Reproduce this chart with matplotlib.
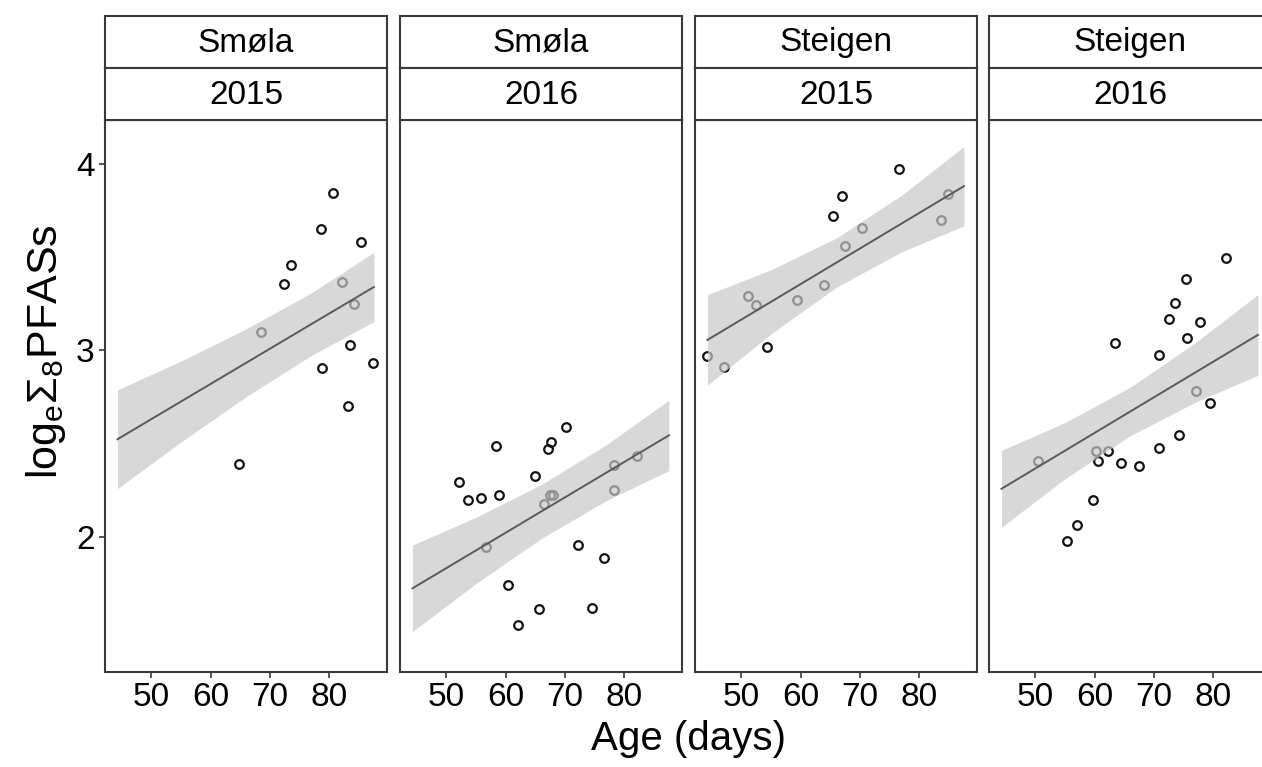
import numpy as np
import matplotlib
matplotlib.use('Agg')
import matplotlib.pyplot as plt

plt.rcParams['font.family'] = ['Liberation Sans', 'DejaVu Sans']
plt.rcParams['mathtext.fontset'] = 'custom'
plt.rcParams['mathtext.rm'] = 'Liberation Sans'
plt.rcParams['mathtext.it'] = 'Liberation Sans'

# Paneles: sitio y año
sites = ['Smøla', 'Smøla', 'Steigen', 'Steigen']
years = ['2015', '2016', '2015', '2016']

# Puntos (edad en días, log_e suma PFAS)
age_1 = [64.8, 68.4, 72.3, 73.6, 78.5, 78.7, 80.6, 82.2, 83.2, 83.4, 84.2, 85.4, 87.4]
pfas_1 = [2.391, 3.097, 3.358, 3.459, 3.651, 2.907, 3.843, 3.367, 2.702, 3.026, 3.246, 3.582, 2.930]

age_2 = [70.1, 67.6, 67.2, 58.3, 65.0, 52.2, 53.6, 55.8, 58.8, 67.4, 67.9, 66.5, 78.2, 82.1,
         78.2, 56.7, 72.1, 76.5, 60.4, 65.6, 74.6, 62.0]
pfas_2 = [2.587, 2.506, 2.468, 2.487, 2.328, 2.293, 2.197, 2.209, 2.224, 2.222, 2.222, 2.178,
          2.383, 2.433, 2.249, 1.944, 1.954, 1.885, 1.739, 1.612, 1.618, 1.528]

age_3 = [76.5, 67.0, 65.4, 84.8, 83.6, 70.4, 67.4, 64.0, 59.3, 51.1, 52.5, 54.3, 44.2, 47.1]
pfas_3 = [3.973, 3.826, 3.722, 3.837, 3.697, 3.659, 3.561, 3.352, 3.269, 3.289, 3.243, 3.016,
          2.970, 2.913]

age_4 = [82.1, 75.4, 73.6, 72.5, 77.8, 75.6, 63.4, 70.8, 77.0, 79.4, 74.2, 70.8, 50.5, 60.2,
         62.2, 60.6, 64.4, 67.4, 59.8, 57.1, 55.3]
pfas_4 = [3.496, 3.384, 3.256, 3.170, 3.154, 3.066, 3.037, 2.974, 2.784, 2.715, 2.548, 2.477,
          2.408, 2.462, 2.458, 2.408, 2.395, 2.381, 2.199, 2.065, 1.979]

# Recta ajustada (extremos) y semiancho del intervalo de confianza
fit_x = [44.3, 87.5]
fit_1 = [2.523, 3.340]
fit_2 = [1.723, 2.544]
fit_3 = [3.056, 3.881]
fit_4 = [2.257, 3.083]

band_x = [44.3, 55, 66, 77, 87.5]
band_hw_1 = [0.265, 0.217, 0.182, 0.168, 0.186]
band_hw_2 = [0.232, 0.178, 0.145, 0.150, 0.189]
band_hw_3 = [0.243, 0.172, 0.132, 0.152, 0.213]
band_hw_4 = [0.206, 0.151, 0.130, 0.160, 0.217]

ages = [age_1, age_2, age_3, age_4]
pfas = [pfas_1, pfas_2, pfas_3, pfas_4]
fits = [fit_1, fit_2, fit_3, fit_4]
bands = [band_hw_1, band_hw_2, band_hw_3, band_hw_4]

W, H = 1262, 767
fig = plt.figure(figsize=(W / 100, H / 100), dpi=100)

lefts = [105, 400, 695, 989]
pw = 282
ptop, pbot = 120, 672
edge = '#3a3a3a'

for i in range(4):
    ax = fig.add_axes([lefts[i] / W, 1 - pbot / H, pw / W, (pbot - ptop) / H])
    ax.plot(ages[i], pfas[i], 'o', ms=6.2, mfc='none', mec='#111111', mew=1.6, zorder=2)
    bx = np.array(band_x)
    line = np.interp(bx, fit_x, fits[i])
    hw = np.array(bands[i])
    ax.fill_between(bx, line - hw, line + hw, color='#c8c8c8', alpha=0.7, lw=0, zorder=3)
    ax.plot(fit_x, fits[i], color='#5a5a5a', lw=1.4, zorder=4)

    ax.set_xlim(42.2, 89.7)
    ax.set_ylim(1.274, 4.236)
    ax.set_xticks([50, 60, 70, 80])
    ax.set_yticks([2, 3, 4])
    ax.tick_params(axis='both', labelsize=24, length=4, width=1.2, color=edge,
                   pad=3.5, labelcolor='black')
    if i > 0:
        ax.tick_params(axis='y', left=False, labelleft=False)
    for s in ax.spines.values():
        s.set_color(edge)
        s.set_linewidth(1.5)

    # Franjas superiores (sitio / año)
    for lab, y0, y1 in [(sites[i], 15.7, 68), (years[i], 68, 120)]:
        sa = fig.add_axes([lefts[i] / W, 1 - y1 / H, pw / W, (y1 - y0) / H])
        sa.set_xticks([])
        sa.set_yticks([])
        for s in sa.spines.values():
            s.set_color(edge)
            s.set_linewidth(1.5)
        sa.text(0.5, 0.48, lab, ha='center', va='center', fontsize=24,
                transform=sa.transAxes)

fig.text(688 / W, 1 - 739 / H, 'Age (days)', ha='center', va='center', fontsize=29)
fig.text(46 / W, 1 - 352 / H, r'$\mathrm{log_e\Sigma_8PFASs}$', ha='center', va='center',
         rotation=90, fontsize=31)

fig.savefig('out.png', dpi=100)
